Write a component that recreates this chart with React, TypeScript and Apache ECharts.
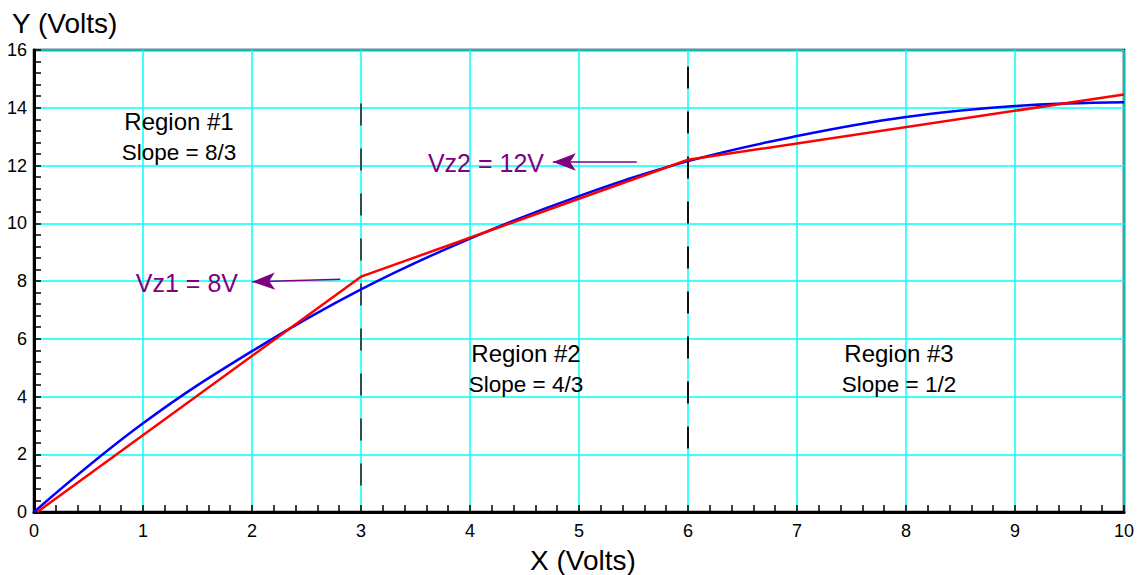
import { useEffect, useRef } from "react";
import * as echarts from "echarts";

// ---- data ----
const blueX = [0, 1, 2, 3, 4, 5, 6, 7, 8, 9, 10];
const blueY = [0, 3.07, 5.57, 7.71, 9.47, 10.94, 12.15, 13.02, 13.68, 14.06, 14.19];
const redX = [0.03, 3, 6, 10];
const redY = [0, 8.15, 12.2, 14.46];
const dividerX = [3, 6];
const dividerTop = [14.15, 15.43];
const dividerBottom = [0.76, 2.15];
const dividerColors = ["#2f4f4f", "#111111"];
// arrows: [startX, startY, tipX, tipY]
const arrowVz1 = [2.81, 8.06, 2.0, 7.97];
const arrowVz2 = [5.53, 12.12, 4.76, 12.12];
const regionTitles = ["Region #1", "Region #2", "Region #3"];
const regionSlopes = ["Slope = 8/3", "Slope = 4/3", "Slope = 1/2"];
const vzLabels = ["Vz1 = 8V", "Vz2 = 12V"];

const FONT = "'Liberation Sans', Arial, Helvetica, sans-serif";

export default function App() {
  const ref = useRef<HTMLDivElement>(null);
  useEffect(() => {
    if (!ref.current) return;
    const chart = echarts.init(ref.current, null, { renderer: "svg" });

    const blueData = blueX.map((x, i) => [x, blueY[i]]);
    const redData = redX.map((x, i) => [x, redY[i]]);

    const dividerSeries = dividerX.map((x, i) => ({
      type: "line",
      data: [
        [x, dividerTop[i]],
        [x, dividerBottom[i]],
      ],
      symbol: "none",
      lineStyle: { color: dividerColors[i], width: 2, type: [22, 23] },
      silent: true,
      z: 3,
    }));

    const regionPos = [
      [179, 121, 152],
      [526, 353, 384],
      [899, 353, 384],
    ];
    const regionGraphics: any[] = [];
    regionPos.forEach((p, i) => {
      regionGraphics.push({
        type: "text",
        x: p[0],
        y: p[1],
        style: {
          text: regionTitles[i],
          font: `24px ${FONT}`,
          fill: "#000",
          textAlign: "center",
          textVerticalAlign: "middle",
        },
        z: 10,
      });
      regionGraphics.push({
        type: "text",
        x: p[0],
        y: p[2],
        style: {
          text: regionSlopes[i],
          font: `22.5px ${FONT}`,
          fill: "#000",
          textAlign: "center",
          textVerticalAlign: "middle",
        },
        z: 10,
      });
    });

    const option: any = {
      animation: false,
      backgroundColor: "#fff",
      grid: {
        left: 34,
        right: 14,
        top: 50,
        bottom: 63,
        show: true,
        borderColor: "#000",
        borderWidth: 2.5,
        backgroundColor: "transparent",
      },
      xAxis: {
        type: "value",
        min: 0,
        max: 10,
        interval: 1,
        axisLine: { show: true, onZero: false, lineStyle: { color: "#000", width: 3 } },
        axisTick: { show: true, inside: true, length: 7, lineStyle: { color: "#000", width: 1.5 } },
        minorTick: { show: true, splitNumber: 5, length: 7, lineStyle: { color: "#000", width: 1.5 } },
        splitLine: { show: true, lineStyle: { color: "#00ffff", width: 1.5 } },
        axisLabel: { color: "#000", fontSize: 18, fontFamily: FONT, margin: 10 },
      },
      yAxis: {
        type: "value",
        min: 0,
        max: 16,
        interval: 2,
        axisLine: { show: true, onZero: false, lineStyle: { color: "#000", width: 3 } },
        axisTick: { show: true, inside: true, length: 7, lineStyle: { color: "#000", width: 1.5 } },
        minorTick: { show: true, splitNumber: 5, length: 7, lineStyle: { color: "#000", width: 1.5 } },
        splitLine: { show: true, lineStyle: { color: "#00ffff", width: 1.5 } },
        axisLabel: { color: "#000", fontSize: 18, fontFamily: FONT, margin: 7 },
      },
      series: [
        ...dividerSeries,
        {
          type: "line",
          data: blueData,
          smooth: 0.4,
          symbol: "none",
          lineStyle: { color: "#0000ff", width: 2.5 },
          z: 4,
          markLine: {
            silent: true,
            symbol: ["none", "arrow"],
            symbolSize: [13, 23],
            label: { show: false },
            lineStyle: { color: "#800080", width: 1.5, type: "solid" },
            data: [
              [
                { coord: [arrowVz1[0], arrowVz1[1]] },
                { coord: [arrowVz1[2], arrowVz1[3]] },
              ],
              [
                { coord: [arrowVz2[0], arrowVz2[1]] },
                { coord: [arrowVz2[2], arrowVz2[3]] },
              ],
            ],
          },
        },
        {
          type: "line",
          data: redData,
          symbol: "none",
          lineStyle: { color: "#ff0000", width: 2.5 },
          z: 5,
        },
      ],
      graphic: [
        {
          type: "text",
          left: 12,
          top: 9,
          style: { text: "Y (Volts)", font: `28px ${FONT}`, fill: "#000" },
        },
        {
          type: "text",
          x: 583,
          y: 560,
          style: {
            text: "X (Volts)",
            font: `28px ${FONT}`,
            fill: "#000",
            textAlign: "center",
            textVerticalAlign: "middle",
          },
        },
        ...regionGraphics,
        {
          type: "text",
          x: 238,
          y: 283,
          style: {
            text: vzLabels[0],
            font: `25px ${FONT}`,
            fill: "#800080",
            textAlign: "right",
            textVerticalAlign: "middle",
          },
          z: 10,
        },
        {
          type: "text",
          x: 544,
          y: 163,
          style: {
            text: vzLabels[1],
            font: `25px ${FONT}`,
            fill: "#800080",
            textAlign: "right",
            textVerticalAlign: "middle",
          },
          z: 10,
        },
      ],
    };
    chart.setOption(option);
    return () => chart.dispose();
  }, []);
  return (
    <div
      ref={ref}
      style={{ position: "absolute", left: 0, top: 0, width: 1138, height: 575, background: "#fff" }}
    />
  );
}
